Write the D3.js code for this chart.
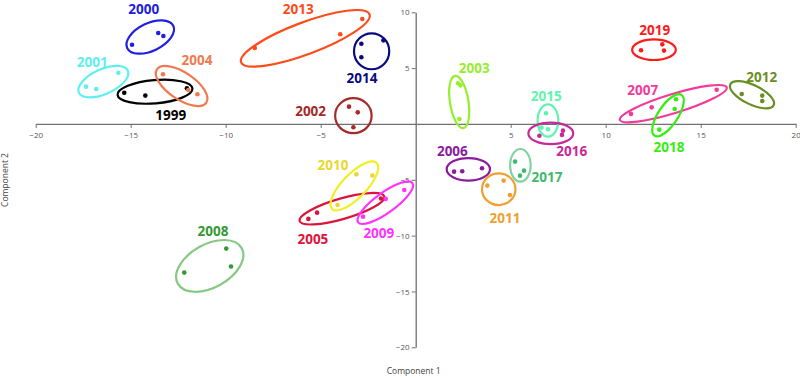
<!DOCTYPE html>
<html><head><meta charset="utf-8">
<script src="https://cdn.jsdelivr.net/npm/d3@7"></script>
<style>body{margin:0;background:#fff;}svg{display:block;}</style>
</head><body><div id="chart"></div>
<script>
// ---- data ----
const years = ["1999","2000","2001","2002","2003","2004","2005","2006","2007","2008","2009","2010","2011","2012","2013","2014","2015","2016","2017","2018","2019"];
const comp1 = [
  [-15.34,-14.23,-12.04],[-14.93,-13.55,-13.28],[-17.35,-16.81,-15.65],[-3.51,-3.05,-3.28],
  [2.23,2.35,2.30],[-13.30,-11.97,-11.49],[-5.65,-5.19,-1.83],[2.02,2.45,3.49],
  [11.33,12.42,15.84],[-12.18,-9.97,-9.72],[-2.77,-1.58,-0.60],[-3.12,-2.28,-4.11],
  [3.77,4.63,4.96],[17.16,18.24,18.24],[-8.47,-3.97,-2.81],[-2.86,-2.86,-1.70],
  [6.86,6.96,6.62],[6.51,7.75,7.70],[5.23,5.70,5.49],[12.82,13.63,13.70],[11.86,12.98,13.07]
];
const comp2 = [
  [2.80,2.54,3.19],[7.10,8.15,7.88],[3.34,3.13,4.59],[1.55,1.04,-0.30],
  [3.64,3.46,0.45],[4.45,3.04,2.66],[-8.50,-7.94,-6.68],[-4.27,-4.24,-3.97],
  [0.90,1.49,3.07],[-13.31,-11.16,-12.77],[-8.30,-6.71,-5.91],[-4.51,-4.62,-7.25],
  [-5.52,-5.07,-6.36],[2.69,2.54,2.06],[6.80,8.03,9.40],[7.19,5.97,7.49],
  [0.96,-0.47,-0.31],[-1.05,-0.60,-0.98],[-3.37,-4.18,-4.63],[-0.51,1.34,2.21],[6.60,7.13,6.57]
];
// ellipse per year: centre, major semi-axis vector (data units), minor/major ratio
const ellCX = [-13.72,-13.97,-16.44,-3.28,2.29,-12.32,-3.88,2.77,13.56,-10.84,-1.60,-3.23,4.37,17.70,-5.81,-2.32,6.96,7.11,5.51,13.28,12.54];
const ellCY = [2.89,7.79,3.79,0.74,1.97,3.40,-7.59,-4.06,1.82,-12.71,-7.05,-5.55,-5.84,2.62,7.67,6.51,0.31,-0.85,-3.70,0.78,6.65];
const ellAX = [1.97,1.21,1.29,0.96,0.22,1.30,2.23,1.14,2.81,1.68,1.43,1.17,0.88,1.14,3.38,0,0,1.18,0,0.71,1.15];
const ellAY = [0.29,1.00,0.98,0,-2.34,-1.49,1.10,0,1.46,1.59,1.76,2.06,0,-0.94,2.15,1.61,1.45,0,1.46,1.83,0];
const ellRatio = [0.31,0.54,0.46,0.96,0.35,0.45,0.233,0.52,0.17,0.59,0.30,0.375,0.95,0.40,0.233,0.98,0.64,0.48,0.63,0.40,0.47];
// label anchor (data units)
const labelX = [-12.89,-14.31,-17.02,-5.53,3.08,-11.51,-5.41,1.93,11.95,-10.67,-1.94,-4.35,4.70,18.21,-6.18,-2.83,6.87,8.21,6.91,13.33,12.58];
const labelY = [0.83,10.3,5.51,1.14,5.04,5.70,-10.27,-2.42,3.07,-9.61,-9.82,-3.73,-8.40,4.18,10.3,4.12,2.51,-2.44,-4.79,-2.08,8.42];
const xTicks = [-20,-15,-10,-5,5,10,15,20];
const yTicks = [-20,-15,-10,-5,5,10];
const xTitle = "Component 1", yTitle = "Component 2";

// ---- styles ----
const pointColor = ["#000000","#2020e0","#5cf0f0","#a52a2a","#96ee30","#f07a50","#dc143c","#8a1c9c","#f23a9c","#339933","#ff33ff","#e8d830","#f0a030","#6b8e23","#ff4a1a","#0a0a80","#5ef5b0","#c7289a","#40b870","#33ee11","#ff1a1a"];
const ellColor   = ["#000000","#2020e0","#5cf0f0","#a52a2a","#96ee30","#f07a50","#dc143c","#8a1c9c","#f23a9c","#85c985","#ff33ff","#f0f020","#f0a030","#6b8e23","#ff4a1a","#0a0a80","#5ef5b0","#c7289a","#80d4a0","#33ee11","#ff1a1a"];
const labelColor = ["#000000","#2020e0","#5cf0f0","#a52a2a","#96ee30","#f07a50","#dc143c","#8a1c9c","#f23a9c","#339933","#ff33ff","#e8d830","#f0a030","#6b8e23","#ff4a1a","#0a0a80","#5ef5b0","#c7289a","#40b870","#33ee11","#ff1a1a"];

const W = 800, H = 378;
const svg = d3.select("#chart").append("svg").attr("width", W).attr("height", H);
const x = d3.scaleLinear().domain([-20, 20]).range([35.7, 795.7]);
const y = d3.scaleLinear().domain([-20, 10]).range([347.3, 12.3]);

const axisColor = "#707070", tickText = "#555";
const gx = svg.append("g").attr("transform", `translate(0,${y(0)})`)
  .call(d3.axisBottom(x).tickValues(xTicks).tickSize(4).tickSizeOuter(0).tickPadding(4));
const gy = svg.append("g").attr("transform", `translate(${x(0)},0)`)
  .call(d3.axisLeft(y).tickValues(yTicks).tickSize(4).tickSizeOuter(0).tickPadding(2));
[gx, gy].forEach(g => {
  g.select(".domain").attr("stroke", axisColor).attr("stroke-width", 1.3);
  g.selectAll(".tick line").attr("stroke", axisColor).attr("stroke-width", 1);
  g.selectAll(".tick text").attr("fill", tickText).style("font-family", "'Open Sans', sans-serif").style("font-size", "8px");
});

svg.append("text").attr("x", x(0) - 2).attr("y", 374).attr("text-anchor", "middle")
  .style("font-family", "'Open Sans', sans-serif").style("font-size", "8.5px").attr("fill", "#444").text(xTitle);
svg.append("text").attr("transform", `translate(8,${180}) rotate(-90)`).attr("text-anchor", "middle")
  .style("font-family", "'Open Sans', sans-serif").style("font-size", "8.5px").attr("fill", "#444").text(yTitle);

// ellipses
years.forEach((yr, i) => {
  const cx = x(ellCX[i]), cy = y(ellCY[i]);
  const vx = x(ellCX[i] + ellAX[i]) - cx, vy = y(ellCY[i] + ellAY[i]) - cy;
  const a = Math.hypot(vx, vy), b = a * ellRatio[i];
  const ang = Math.atan2(vy, vx) * 180 / Math.PI;
  svg.append("ellipse").attr("cx", cx).attr("cy", cy).attr("rx", a).attr("ry", b)
    .attr("transform", `rotate(${ang},${cx},${cy})`)
    .attr("fill", "none").attr("stroke", ellColor[i]).attr("stroke-width", 2.2);
});
// points
years.forEach((yr, i) => {
  svg.append("g").selectAll("circle").data(d3.range(comp1[i].length)).join("circle")
    .attr("cx", j => x(comp1[i][j])).attr("cy", j => y(comp2[i][j])).attr("r", 2.3)
    .attr("fill", pointColor[i]);
});
// labels
svg.append("g").selectAll("text").data(years).join("text")
  .attr("x", (d, i) => x(labelX[i])).attr("y", (d, i) => y(labelY[i])).attr("dy", "0.36em")
  .attr("text-anchor", "middle").attr("fill", (d, i) => labelColor[i])
  .style("font-family", "'Open Sans', sans-serif").style("font-weight", "bold").style("font-size", "13.5px")
  .text(d => d);
</script></body></html>
